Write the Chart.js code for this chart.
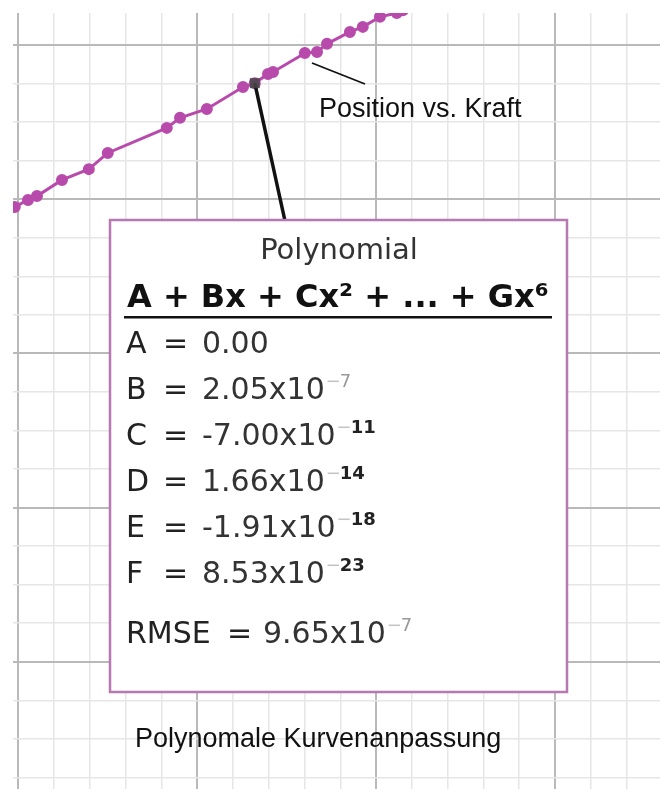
<!DOCTYPE html>
<html>
<head>
<meta charset="utf-8">
<script src="https://cdn.jsdelivr.net/npm/chart.js@4"></script>
<style>
  body { margin: 0; background: #fff; }
  canvas { display: block; }
</style>
</head>
<body>
<canvas id="fitChart" width="660" height="789"></canvas>
<script>
// ===== DATA (arbitrary grid units) =====
const posX = [-0.10, 0.27, 0.52, 1.22, 1.97, 2.50, 4.15, 4.52, 5.27, 6.28, 6.61,
              6.98, 7.12, 8.01, 8.35, 8.63, 9.27, 9.63, 10.11, 10.58, 10.75];
const kraftY = [15.80, 15.98, 16.08, 16.50, 16.78, 17.20, 17.85, 18.11, 18.34, 18.91, 19.01,
                19.25, 19.30, 19.79, 19.82, 20.03, 20.34, 20.47, 20.73, 20.83, 20.90];
const markerIndex = 10;

const xTicks = [0, 1, 2, 3, 4, 5, 6, 7, 8, 9, 10, 11, 12, 13, 14, 15, 16, 17];
const yTicks = [1, 2, 3, 4, 5, 6, 7, 8, 9, 10, 11, 12, 13, 14, 15, 16, 17, 18, 19, 20];

const seriesLabel = 'Position vs. Kraft';
const boxTitle = 'Polynomial';
const boxFormula = 'A + Bx + Cx² + ... + Gx⁶';
const coefNames = ['A', 'B', 'C', 'D', 'E', 'F'];
const coefMantissa = ['0.00', '2.05x10', '-7.00x10', '1.66x10', '-1.91x10', '8.53x10'];
const coefExponent = ['', '7', '11', '14', '18', '23'];
const rmseMantissa = '9.65x10';
const rmseExponent = '7';
const caption = 'Polynomale Kurvenanpassung';

const points = posX.map((x, i) => ({ x, y: kraftY[i] }));

// ===== OVERLAY: label, pointer, coefficient box, caption =====
const overlay = {
  id: 'overlay',
  afterDatasetsDraw(chart) {
    const ctx = chart.ctx;
    const xs = chart.scales.x, ys = chart.scales.y;
    const mx = xs.getPixelForValue(posX[markerIndex]);
    const my = ys.getPixelForValue(kraftY[markerIndex]);

    ctx.save();
    // pointer from the marked point to the box
    ctx.strokeStyle = '#111';
    ctx.lineWidth = 3.5;
    ctx.beginPath();
    ctx.moveTo(mx, my);
    ctx.lineTo(285, 221);
    ctx.stroke();

    // marked point
    ctx.fillStyle = 'rgba(70,70,70,0.85)';
    ctx.fillRect(mx - 5, my - 5, 10, 10);

    // series label + leader
    ctx.lineWidth = 1.8;
    ctx.beginPath();
    ctx.moveTo(312, 63);
    ctx.lineTo(365, 84);
    ctx.stroke();
    ctx.fillStyle = '#111';
    ctx.font = '27px "Liberation Sans", Arial, sans-serif';
    ctx.textBaseline = 'alphabetic';
    ctx.fillText(seriesLabel, 319, 117);

    // coefficient box
    ctx.fillStyle = '#fff';
    ctx.fillRect(110, 220, 457, 472);
    ctx.strokeStyle = '#b878b2';
    ctx.lineWidth = 2.5;
    ctx.strokeRect(110, 220, 457, 472);

    ctx.fillStyle = '#333';
    ctx.font = '29px "DejaVu Sans", sans-serif';
    ctx.textAlign = 'center';
    ctx.fillText(boxTitle, 339, 259);

    ctx.fillStyle = '#111';
    ctx.font = 'bold 32px "DejaVu Sans", sans-serif';
    ctx.textAlign = 'left';
    ctx.fillText(boxFormula, 127, 307);
    ctx.fillRect(124, 316, 428, 2.5);

    const rowFont = '30px "DejaVu Sans", sans-serif';
    const drawExp = (exp, x, base) => {
      if (!exp) return;
      ctx.font = '18px "DejaVu Sans", sans-serif';
      ctx.fillStyle = '#c4c4c4';
      ctx.fillText('−', x, base - 12);
      const w = ctx.measureText('−').width;
      ctx.font = exp.length > 1 ? 'bold 18px "DejaVu Sans", sans-serif' : '18px "DejaVu Sans", sans-serif';
      ctx.fillStyle = exp.length > 1 ? '#222' : '#999';
      ctx.fillText(exp, x + w - 1, base - 12);
    };

    coefNames.forEach((name, i) => {
      const base = 353 + i * 46;
      ctx.font = rowFont;
      ctx.fillStyle = '#222';
      ctx.fillText(name, 126, base);
      ctx.fillText('=', 163, base);
      ctx.fillStyle = '#333';
      ctx.fillText(coefMantissa[i], 202, base);
      const end = 202 + ctx.measureText(coefMantissa[i]).width;
      drawExp(coefExponent[i], end + 1, base);
    });

    ctx.font = rowFont;
    ctx.fillStyle = '#222';
    ctx.fillText('RMSE', 126, 643);
    ctx.fillText('=', 227, 643);
    ctx.fillStyle = '#333';
    ctx.fillText(rmseMantissa, 263, 643);
    drawExp(rmseExponent, 263 + ctx.measureText(rmseMantissa).width + 1, 643);

    // caption
    ctx.fillStyle = '#111';
    ctx.font = '27px "Liberation Sans", Arial, sans-serif';
    ctx.fillText(caption, 135, 747);
    ctx.restore();
  }
};

const gridStyle = (every) => ({
  drawTicks: false,
  color: c => (c.tick && c.tick.value % every === 0) ? '#b9b9b9' : '#e6e6e6',
  lineWidth: c => (c.tick && c.tick.value % every === 0) ? 2 : 1.5
});

new Chart(document.getElementById('fitChart').getContext('2d'), {
  type: 'scatter',
  data: {
    datasets: [{
      label: seriesLabel,
      data: points,
      showLine: true,
      borderColor: '#b84aac',
      backgroundColor: '#b84aac',
      borderWidth: 3,
      pointRadius: 4.5,
      pointHoverRadius: 4.5,
      clip: 0
    }]
  },
  options: {
    responsive: false,
    animation: false,
    layout: { autoPadding: false, padding: { left: 13, top: 13, right: 0, bottom: 0 } },
    plugins: { legend: { display: false }, tooltip: { enabled: false } },
    scales: {
      x: {
        type: 'linear', min: -0.15, max: 17.94,
        afterBuildTicks: s => { s.ticks = xTicks.map(v => ({ value: v })); },
        ticks: { display: false },
        border: { display: false },
        grid: gridStyle(5)
      },
      y: {
        type: 'linear', min: 0.7, max: 20.83,
        afterBuildTicks: s => { s.ticks = yTicks.map(v => ({ value: v })); },
        ticks: { display: false },
        border: { display: false },
        grid: gridStyle(4)
      }
    }
  },
  plugins: [overlay]
});
</script>
</body>
</html>
